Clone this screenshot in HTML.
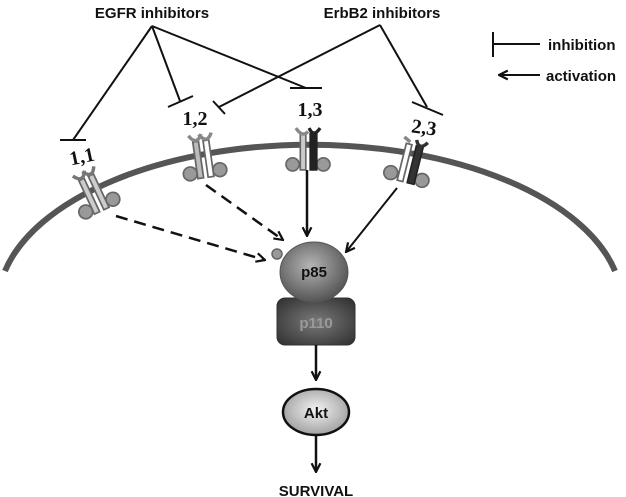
<!DOCTYPE html>
<html><head><meta charset="utf-8"><style>
html,body{margin:0;padding:0;background:#fff;}
svg{display:block;}
.s{font-family:"Liberation Sans",sans-serif;font-weight:bold;fill:#111;}
.r{font-family:"Liberation Serif",serif;font-weight:bold;fill:#111;}
</style></head><body>
<svg width="626" height="497" viewBox="0 0 626 497" xmlns="http://www.w3.org/2000/svg">
<defs>
<radialGradient id="g85" cx="45%" cy="40%" r="60%"><stop offset="0" stop-color="#b5b5b5"/><stop offset="1" stop-color="#555"/></radialGradient>
<radialGradient id="g110" cx="50%" cy="50%" r="65%"><stop offset="0" stop-color="#7a7a7a"/><stop offset="1" stop-color="#333"/></radialGradient>
<radialGradient id="gakt" cx="50%" cy="45%" r="60%"><stop offset="0" stop-color="#f2f2f2"/><stop offset="1" stop-color="#9a9a9a"/></radialGradient>
<marker id="ah" viewBox="0 0 10 10" refX="9" refY="5" markerWidth="11" markerHeight="11" orient="auto" markerUnits="userSpaceOnUse"><path d="M1,1 L9,5 L1,9" fill="none" stroke="#111" stroke-width="2"/></marker>
</defs>

<path d="M5,271 A312,160 0 0 1 615,271" fill="none" stroke="#555" stroke-width="6"/>

<text class="s" x="152" y="18" font-size="15" text-anchor="middle">EGFR inhibitors</text>
<text class="s" x="382" y="18" font-size="15" text-anchor="middle">ErbB2 inhibitors</text>

<g stroke="#111" stroke-width="2" fill="none">
  <path d="M152,26 L73,140"/><path d="M60,140 L86,140"/>
  <path d="M152,26 L180,101"/><path d="M168,107 L193,96"/>
  <path d="M152,26 L306,88"/><path d="M290,88 L322,88"/>
  <path d="M380,25 L219,107"/><path d="M213,101 L225,114"/>
  <path d="M380,25 L427,107"/><path d="M412,102 L443,115"/>
  <path d="M493,32 L493,57"/><path d="M493,44 L540,44"/>
  <path d="M540,75 L499,75" marker-end="url(#ah)"/>
</g>
<text class="s" x="548" y="50" font-size="15">inhibition</text>
<text class="s" x="546" y="81" font-size="15">activation</text>

<text class="r" x="82" y="163" font-size="20" text-anchor="middle" transform="rotate(-12 82 157)">1,1</text>
<text class="r" x="195" y="125" font-size="20" text-anchor="middle">1,2</text>
<text class="r" x="310" y="116" font-size="20" text-anchor="middle">1,3</text>
<text class="r" x="424" y="134" font-size="20" text-anchor="middle" transform="rotate(8 424 128)">2,3</text>

<g transform="translate(93,192) rotate(-25) scale(1.15)">
  <circle cx="-13" cy="13" r="6" fill="#999" stroke="#666" stroke-width="1.5"/>
  <circle cx="13" cy="13" r="6" fill="#999" stroke="#666" stroke-width="1.5"/>
  <rect x="-7" y="-14" width="5" height="32" fill="#ccc" stroke="#666" stroke-width="1.5"/>
  <rect x="2" y="-14" width="5" height="32" fill="#ccc" stroke="#666" stroke-width="1.5"/>
  <path d="M-10,-20 Q-4,-10 1,-20 M-1,-20 Q5,-10 10,-20" fill="none" stroke="#777" stroke-width="3"/>
</g>
<g transform="translate(203,157) rotate(-8) scale(1.15)">
  <circle cx="-13" cy="13" r="6" fill="#999" stroke="#666" stroke-width="1.5"/>
  <circle cx="13" cy="13" r="6" fill="#999" stroke="#666" stroke-width="1.5"/>
  <rect x="-7" y="-14" width="5" height="32" fill="#bbb" stroke="#666" stroke-width="1.5"/>
  <rect x="2" y="-14" width="5" height="32" fill="#fff" stroke="#666" stroke-width="1.5"/>
  <path d="M-10,-20 Q-4,-10 1,-20 M-1,-20 Q5,-10 10,-20" fill="none" stroke="#888" stroke-width="3"/>
</g>
<g transform="translate(308,149) scale(1.1)">
  <circle cx="-14" cy="14" r="6" fill="#999" stroke="#666" stroke-width="1.5"/>
  <circle cx="14" cy="14" r="6" fill="#999" stroke="#666" stroke-width="1.5"/>
  <rect x="-7" y="-14" width="5" height="33" fill="#ccc" stroke="#666" stroke-width="1.5"/>
  <rect x="2" y="-14" width="6" height="33" fill="#222" stroke="#222" stroke-width="1.5"/>
  <path d="M-11,-19 Q-5,-10 0,-16" fill="none" stroke="#888" stroke-width="3"/>
  <path d="M1,-19 Q5,-10 11,-19" fill="none" stroke="#222" stroke-width="3"/>
</g>
<g transform="translate(410,162) rotate(14) scale(1.15)">
  <circle cx="-14" cy="13" r="6" fill="#999" stroke="#666" stroke-width="1.5"/>
  <circle cx="14" cy="13" r="6" fill="#999" stroke="#666" stroke-width="1.5"/>
  <rect x="-7" y="-15" width="5" height="33" fill="#fff" stroke="#666" stroke-width="1.5"/>
  <rect x="2" y="-15" width="6" height="33" fill="#333" stroke="#222" stroke-width="1.5"/>
  <path d="M-10,-20 L-4,-17" fill="none" stroke="#888" stroke-width="3"/>
  <path d="M1,-20 Q5,-11 11,-20" fill="none" stroke="#333" stroke-width="3"/>
</g>

<g stroke="#111" stroke-width="2.5" fill="none">
  <path d="M116,216 L265,260" stroke-dasharray="12,7" marker-end="url(#ah)"/>
  <path d="M206,185 L283,240" stroke-dasharray="12,7" marker-end="url(#ah)"/>
  <path d="M307,170 L307,236" marker-end="url(#ah)"/>
  <path d="M397,188 L346,252" stroke-width="2" marker-end="url(#ah)"/>
</g>

<rect x="277" y="298" width="78" height="47" rx="8" fill="url(#g110)" stroke="#333" stroke-width="1"/>
<text x="316" y="328" font-size="15" text-anchor="middle" font-family="Liberation Sans, sans-serif" font-weight="bold" fill="#9a9a9a">p110</text>
<ellipse cx="314" cy="272" rx="34" ry="30" fill="url(#g85)" stroke="#555" stroke-width="1"/>
<text class="s" x="314" y="277" font-size="15" text-anchor="middle">p85</text>
<circle cx="277" cy="254" r="5" fill="#999" stroke="#666" stroke-width="1.5"/>

<g stroke="#111" stroke-width="2.5" fill="none">
  <path d="M316,345 L316,380" marker-end="url(#ah)"/>
  <path d="M316,435 L316,472" marker-end="url(#ah)"/>
</g>
<ellipse cx="316" cy="412" rx="33" ry="23" fill="url(#gakt)" stroke="#111" stroke-width="2.5"/>
<text class="s" x="316" y="418" font-size="15" text-anchor="middle">Akt</text>
<text class="s" x="316" y="496" font-size="15" text-anchor="middle">SURVIVAL</text>
</svg>
</body></html>
